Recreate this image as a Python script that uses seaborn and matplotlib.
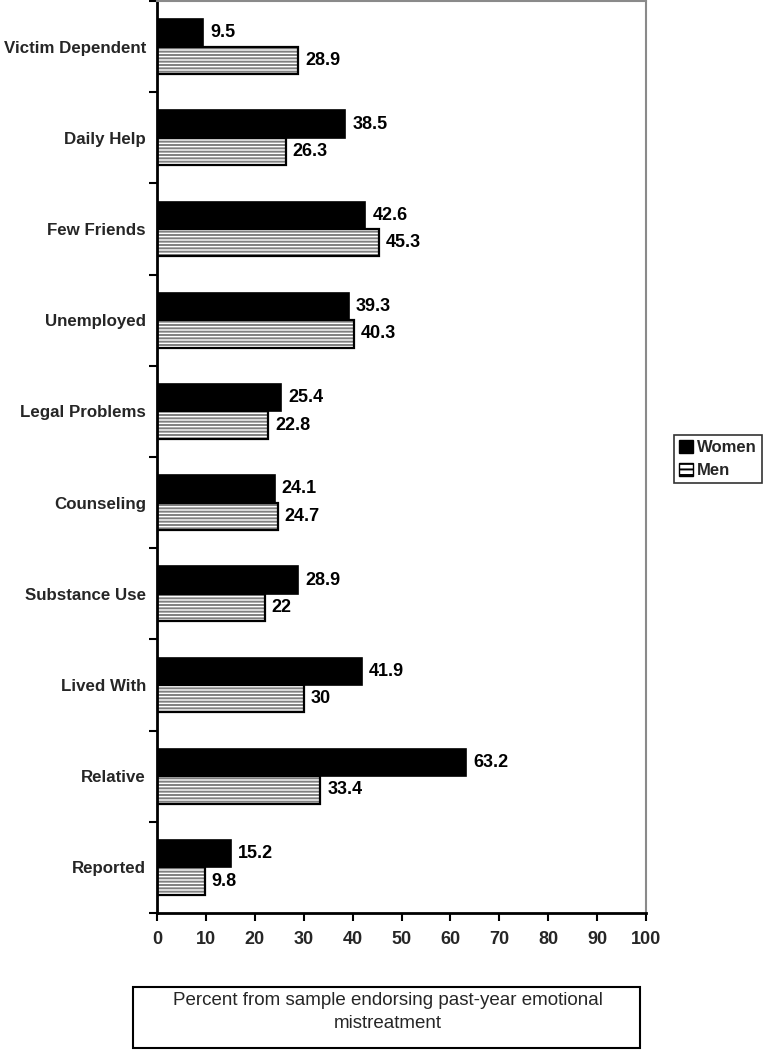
import matplotlib
matplotlib.use("Agg")
import matplotlib.pyplot as plt
import seaborn as sns
import pandas as pd
from matplotlib.patches import Rectangle, Patch

categories = ["Victim Dependent", "Daily Help", "Few Friends", "Unemployed", "Legal Problems",
              "Counseling", "Substance Use", "Lived With", "Relative", "Reported"]
women = [9.5, 38.5, 42.6, 39.3, 25.4, 24.1, 28.9, 41.9, 63.2, 15.2]
men = [28.9, 26.3, 45.3, 40.3, 22.8, 24.7, 22.0, 30.0, 33.4, 9.8]
women_labels = ["9.5", "38.5", "42.6", "39.3", "25.4", "24.1", "28.9", "41.9", "63.2", "15.2"]
men_labels = ["28.9", "26.3", "45.3", "40.3", "22.8", "24.7", "22", "30", "33.4", "9.8"]
xticks = [0, 10, 20, 30, 40, 50, 60, 70, 80, 90, 100]
xlabel = "Percent from sample endorsing past-year emotional\nmistreatment"

sns.set_theme(style="white")
plt.rcParams['font.family'] = ['Liberation Sans', 'DejaVu Sans']
plt.rcParams['hatch.linewidth'] = 1.4

df = pd.DataFrame({
    "cat": categories * 2,
    "val": women + men,
    "grp": ["Women"] * len(categories) + ["Men"] * len(categories),
})

fig = plt.figure(figsize=(7.69, 10.5), dpi=100)
W, H = 769, 1050
ax = fig.add_axes([157 / W, 1 - 913 / H, (646 - 157) / W, (913 - 1) / H])

sns.barplot(data=df, y="cat", x="val", hue="grp", order=categories,
            hue_order=["Women", "Men"], palette={"Women": "black", "Men": "white"},
            width=0.6, ax=ax, legend=False, orient="h", saturation=1)

n = len(categories)
patches = ax.patches[:2 * n]
for p in patches[:n]:
    p.set_edgecolor("black")
    p.set_linewidth(1.2)
for p in patches[n:]:
    p.set_facecolor("white")
    p.set_edgecolor("#808080")
    p.set_hatch("-----")
    p.set_linewidth(0)
    ax.add_patch(Rectangle(p.get_xy(), p.get_width(), p.get_height(),
                           facecolor="none", edgecolor="black", linewidth=1.6, zorder=3))

for cont, labs in zip(ax.containers, [women_labels, men_labels]):
    ax.bar_label(cont, labels=labs, padding=5, fontsize=13, fontweight="bold", color="black")

ax.set_xlim(0, 100)
ax.set_ylim(n - 0.5, -0.5)
ax.set_xticks(xticks)
ax.set_xticklabels([str(t) for t in xticks], fontsize=13, fontweight="bold")
ax.set_yticks(range(n))
ax.set_yticklabels(categories, fontsize=12.2, fontweight="bold")
ax.set_yticks([i - 0.5 for i in range(n + 1)], minor=True)
ax.tick_params(axis="y", which="major", length=0, pad=8)
ax.tick_params(axis="y", which="minor", length=6, width=1.5, direction="out", left=True, color="black")
ax.tick_params(axis="x", which="major", length=6, width=1.5, direction="out", bottom=True,
               color="black", pad=7)
ax.set_xlabel("")
ax.set_ylabel("")
ax.grid(False)

for side in ["left", "bottom"]:
    ax.spines[side].set_color("black")
    ax.spines[side].set_linewidth(2)
for side in ["top", "right"]:
    ax.spines[side].set_color("#8a8a8a")
    ax.spines[side].set_linewidth(1.5)
    ax.spines[side].set_visible(True)

handles = [Patch(facecolor="black", edgecolor="black"),
           Patch(facecolor="white", edgecolor="black", hatch="---")]
leg = fig.legend(handles, ["Women", "Men"], loc="center", bbox_to_anchor=(718 / W, 1 - 459 / H),
                 frameon=True, fancybox=False, edgecolor="black", handlelength=0.8,
                 handleheight=0.8, handletextpad=0.25, borderpad=0.3, labelspacing=0.45,
                 borderaxespad=0, prop={"weight": "bold", "size": 12})
leg.get_frame().set_linewidth(1.2)

fig.patches.append(Rectangle((133 / W, 1 - 1048 / H), (640 - 133) / W, (1048 - 987) / H,
                             transform=fig.transFigure, facecolor="white", edgecolor="black",
                             linewidth=1.5))
fig.text(388 / W, 1 - 1012 / H, xlabel, ha="center", va="center", fontsize=13.5,
         linespacing=1.45)

fig.savefig("out.png", dpi=100)
